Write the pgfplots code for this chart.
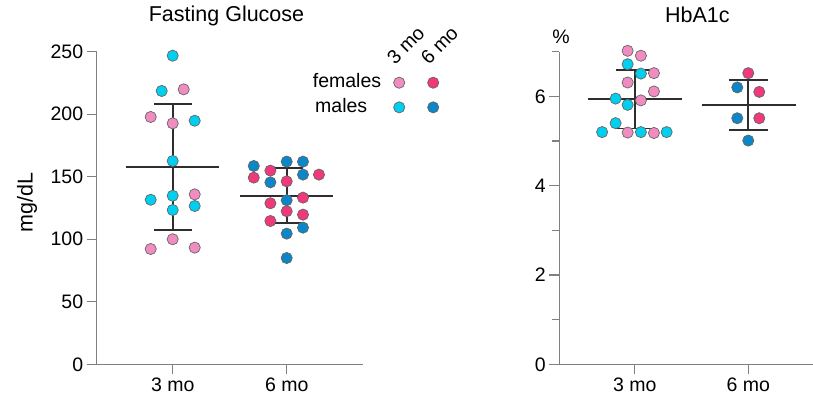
\documentclass[border=0pt]{standalone}
\usepackage{fontspec}
\setmainfont{Liberation Sans}
\usepackage{pgfplots}
\pgfplotsset{compat=1.18}
\definecolor{fpink}{HTML}{F08CC0}
\definecolor{fred}{HTML}{F0387A}
\definecolor{mcyan}{HTML}{00CFEF}
\definecolor{mblue}{HTML}{0B86C8}
\definecolor{axgray}{HTML}{808080}
\definecolor{barc}{HTML}{2E2E2E}
\newcommand\tfont{\fontsize{19.5bp}{23bp}\selectfont}
\newcommand\hfont{\fontsize{21.5bp}{25bp}\selectfont}
\pgfplotsset{
  base/.style={
    scale only axis, height=312.6bp,
    axis x line*=bottom, axis y line*=left,
    axis line style={axgray, line width=1.3bp},
    tick style={axgray, line width=1.2bp},
    major tick length=10bp, minor tick length=7bp,
    tick align=outside,
    xmin=0.3333, xtick={1,2}, xticklabels={3 mo,6 mo},
    ticklabel style={font=\tfont},
    /pgf/number format/assume math mode=true,
    label style={font=\fontsize{21.5bp}{25bp}\selectfont},
    title style={font=\hfont},
    clip=false,
  },
  pts/.style={only marks, mark=*, mark size=5.6bp,
    mark options={draw=black!60, line width=0.7bp, fill=#1}},
  bar/.style={barc, line width=1.9bp},
}
\begin{document}
\begin{tikzpicture}
\path[use as bounding box] (0,0) rectangle (813bp,396bp);
% ---------------- Fasting Glucose ----------------
\begin{axis}[base, at={(96.7bp,31.7bp)}, anchor=south west,
  width=266bp, xmax=2.6667, ymin=0, ymax=250,
  ytick={0,50,100,150,200,250},
  title={Fasting Glucose}, title style={at={(0.488,1)}, anchor=base, yshift=24bp},
  ylabel={mg/dL}, ylabel style={at={(axis description cs:-0.262,0.5176)}, anchor=center}]
% mean and SD, 3 mo
\addplot[bar] coordinates {(0.59,157.8) (1.41,157.8)};
\addplot[bar] coordinates {(1,107.7) (1,208.2)};
\addplot[bar] coordinates {(0.835,208.2) (1.165,208.2)};
\addplot[bar] coordinates {(0.835,107.7) (1.165,107.7)};
% mean and SD, 6 mo
\addplot[bar] coordinates {(1.59,134.9) (2.41,134.9)};
\addplot[bar] coordinates {(2,112.8) (2,157.0)};
\addplot[bar] coordinates {(1.855,157.0) (2.145,157.0)};
\addplot[bar] coordinates {(1.855,112.8) (2.145,112.8)};
% points
\addplot[pts=fpink] coordinates {(1.0965,219.9) (0.807,197.8) (1,192.7) (1.193,135.9) (1,100) (0.807,92.2) (1.193,93.3)};
\addplot[pts=mcyan] coordinates {(1,246.8) (0.9035,218.6) (1.193,194.8) (1,162.6) (0.807,131.6) (1,134.8) (1,123.4) (1.193,126.6)};
\addplot[pts=fred] coordinates {(1.857,154.9) (1.711,149.3) (2,146.3) (2.283,151.7) (1.857,128.8) (2.143,133.3) (2,122.4) (2.143,119.7) (1.857,114.6)};
\addplot[pts=mblue] coordinates {(1.711,158.6) (2,162.1) (2.143,162.1) (1.857,145.5) (2.143,151.7) (2,131.2) (2.143,109.3) (2,104.5) (2,85.0)};
% legend
\addplot[pts=fpink] coordinates {(2.987,225.2)};
\addplot[pts=fred] coordinates {(3.285,225.2)};
\addplot[pts=mcyan] coordinates {(2.987,205.5)};
\addplot[pts=mblue] coordinates {(3.285,205.5)};
\node[font=\tfont, anchor=base west, inner sep=0pt] at (axis cs:2.228,221) {females};
\node[font=\tfont, anchor=base west, inner sep=0pt] at (axis cs:2.248,201.4) {males};
\node[font=\tfont, anchor=base west, inner sep=0pt, rotate=45] at (axis cs:2.950,239.0) {3 mo};
\node[font=\tfont, anchor=base west, inner sep=0pt, rotate=45] at (axis cs:3.245,239.0) {6 mo};
\end{axis}
% ---------------- HbA1c ----------------
\begin{axis}[base, at={(559.3bp,31.7bp)}, anchor=south west,
  width=253.7bp, xmax=2.571, ymin=0, ymax=7,
  ytick={0,2,4,6}, minor ytick={1,3,5,7},
  title={HbA1c}, title style={at={(0.544,1)}, anchor=base, yshift=23.4bp}]
\addplot[bar] coordinates {(0.583,5.94) (1.417,5.94)};
\addplot[bar] coordinates {(1,5.28) (1,6.60)};
\addplot[bar] coordinates {(0.83,6.60) (1.175,6.60)};
\addplot[bar] coordinates {(0.83,5.28) (1.175,5.28)};
\addplot[bar] coordinates {(1.59,5.81) (2.42,5.81)};
\addplot[bar] coordinates {(2,5.25) (2,6.37)};
\addplot[bar] coordinates {(1.83,6.37) (2.17,6.37)};
\addplot[bar] coordinates {(1.83,5.25) (2.17,5.25)};
\addplot[pts=fpink] coordinates {(0.936,7.02) (1.053,6.91) (1.168,6.52) (0.936,6.31) (1.168,6.11) (1.053,5.91) (0.936,5.19) (1.168,5.18)};
\addplot[pts=mcyan] coordinates {(0.936,6.72) (1.053,6.51) (0.830,5.95) (0.936,5.81) (0.830,5.40) (0.711,5.20) (1.053,5.20) (1.280,5.20)};
\addplot[pts=fred] coordinates {(2,6.52) (2.097,6.10) (2.097,5.51)};
\addplot[pts=mblue] coordinates {(1.903,6.20) (1.903,5.51) (2,5.01)};
\node[font=\tfont, anchor=base, inner sep=0pt] at (axis description cs:0.007,1.027) {\%};
\end{axis}
\end{tikzpicture}
\end{document}
